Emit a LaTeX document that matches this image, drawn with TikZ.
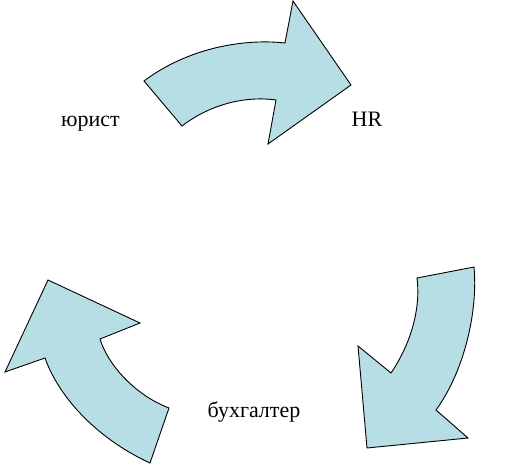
\documentclass[tikz,border=0pt]{standalone}
\usepackage{fontspec}
\setmainfont{Liberation Serif}
\usepackage{xcolor}
\definecolor{arrowfill}{RGB}{183,222,228}
\tikzset{cyclearrow/.style={draw=black,fill=arrowfill,line width=0.9pt,line join=miter},
  rolelabel/.style={font=\fontsize{22}{26}\selectfont,inner sep=0pt,anchor=base}}

\begin{document}
\begin{tikzpicture}[x=1pt,y=-1pt]
    \useasboundingbox (0,0) rectangle (513,468);

    % top arrow
    \draw[cyclearrow] (144,81) .. controls (185,50) and (240,38) .. (285,43)
      -- (293,1) -- (351,85) -- (268,144) -- (276,100)
      .. controls (240,95) and (205,108) .. (182,126) -- cycle;

    % right arrow
    \draw[cyclearrow] (474,267) .. controls (478,310) and (465,370) .. (436,410)
      -- (468,438) -- (367,448) -- (358,346) -- (391,373)
      .. controls (410,345) and (421,310) .. (417,278) -- cycle;

    % left arrow
    \draw[cyclearrow] (150,463) .. controls (100,440) and (60,400) .. (45,358)
      -- (5,372) -- (48,280) -- (140,323) -- (100,339)
      .. controls (108,365) and (135,395) .. (169,408) -- cycle;

    \node[rolelabel] (lawyer) at (90.5,126) {юрист};
    \node[rolelabel] (hr) at (367,126) {HR};
    \node[rolelabel] (accountant) at (254,417) {бухгалтер};
\end{tikzpicture}
\end{document}
